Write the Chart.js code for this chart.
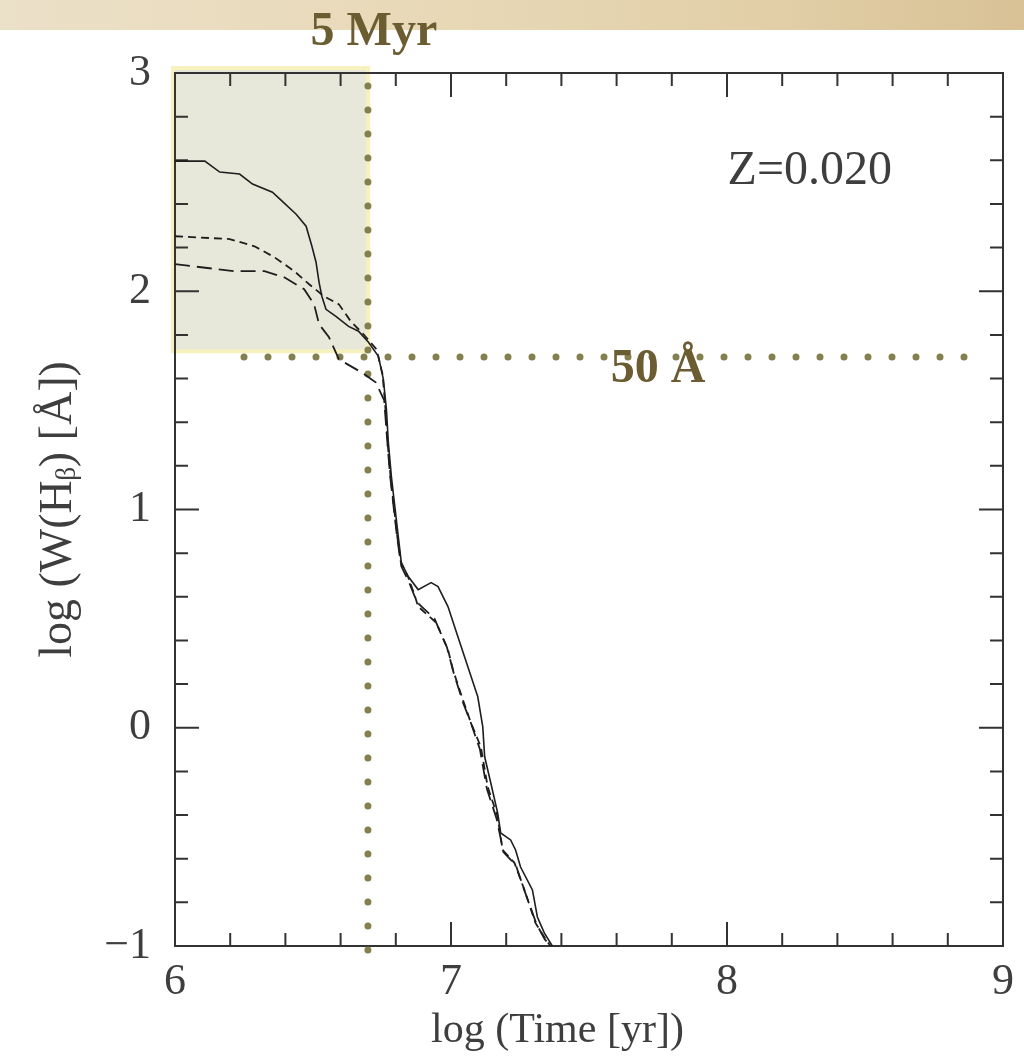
<!DOCTYPE html>
<html>
<head>
<meta charset="utf-8">
<script src="https://cdn.jsdelivr.net/npm/chart.js@4.4.0/dist/chart.umd.min.js"></script>
<style>
  body { margin: 0; background: #fff; }
  #band { position: absolute; left: 0; top: 0; width: 1024px; height: 30px;
    background: linear-gradient(90deg, #ebe0c8 0%, #e8d9b8 40%, #e2cfa8 75%, #d8c195 100%); }
  #wrap { position: absolute; left: 0; top: 0; width: 1024px; height: 1056px; }
</style>
</head>
<body>
<div id="band"></div>
<div id="wrap"><canvas id="chart" width="1024" height="1056"></canvas></div>
<script>
// log time [yr] vs log W(Hbeta) [A], three tracks
var solidX = [6.0, 6.108, 6.162, 6.234, 6.281, 6.353, 6.388, 6.439, 6.475, 6.496, 6.511, 6.522, 6.532, 6.547, 6.583, 6.629, 6.665, 6.701, 6.737,
  6.755, 6.766, 6.773, 6.784, 6.799, 6.809, 6.820, 6.845, 6.881, 6.928, 6.953, 6.989, 7.025, 7.061, 7.097, 7.115, 7.122, 7.144, 7.169, 7.180,
  7.216, 7.234, 7.252, 7.295, 7.313, 7.338, 7.367]
var solidY = [2.596, 2.596, 2.546, 2.537, 2.491, 2.454, 2.413, 2.353, 2.298, 2.206, 2.133, 2.041, 1.977, 1.917, 1.885, 1.839, 1.817, 1.766, 1.702,
  1.596, 1.459, 1.307, 1.151, 0.986, 0.876, 0.757, 0.693, 0.633, 0.665, 0.647, 0.555, 0.417, 0.280, 0.142, 0.005, -0.133, -0.252, -0.390, -0.482,
  -0.514, -0.560, -0.638, -0.743, -0.867, -0.940, -1.0]

var dashX = [6.0, 6.198, 6.288, 6.360, 6.432, 6.486, 6.540, 6.594, 6.637, 6.683, 6.730, 6.752, 6.762, 6.770, 6.781, 6.796, 6.806, 6.818, 6.845,
  6.870, 6.881, 6.946, 6.989, 7.007, 7.043, 7.072, 7.108, 7.133, 7.169, 7.187, 7.230, 7.266, 7.306, 7.338, 7.360]
var dashY = [2.252, 2.239, 2.206, 2.156, 2.092, 2.032, 1.977, 1.940, 1.862, 1.803, 1.734, 1.62, 1.47, 1.31, 1.15, 0.98, 0.87, 0.76, 0.69,
  0.60, 0.555, 0.482, 0.358, 0.266, 0.128, 0.023, -0.087, -0.271, -0.408, -0.560, -0.619, -0.743, -0.894, -0.959, -1.0]

var longX = [6.0, 6.216, 6.324, 6.396, 6.468, 6.504, 6.522, 6.558, 6.594, 6.676, 6.727, 6.758, 6.768, 6.779, 6.794, 6.806, 6.82, 6.85, 6.877,
  6.94, 6.985, 7.01, 7.045, 7.07, 7.105, 7.13, 7.166, 7.19, 7.235, 7.27, 7.31, 7.34, 7.362]
var longY = [2.124, 2.092, 2.092, 2.064, 2.009, 1.940, 1.849, 1.789, 1.688, 1.628, 1.583, 1.50, 1.33, 1.16, 0.99, 0.86, 0.74, 0.66, 0.575,
  0.50, 0.37, 0.25, 0.11, 0.03, -0.10, -0.28, -0.42, -0.57, -0.63, -0.76, -0.90, -0.97, -1.0]

// 5 Myr and 50 A guide lines, and the highlighted box
var myrX = [6.699, 6.699]
var myrY = [2.94, -1.07]
var ewX = [6.25, 8.93]
var ewY = [1.699, 1.699]
var boxX = [6.0, 6.7]
var boxY = [1.725, 3.0]

var xTicks = [6, 7, 8, 9]
var yTicks = [-1, 0, 1, 2, 3]

function pts(xs, ys) {
  return xs.map(function (v, i) { return { x: v, y: ys[i] } })
}

var serif = '"Liberation Serif", "DejaVu Serif", serif'
var textCol = '#3e3e3e'
var olive = '#837f4f'
var labelCol = '#6b5c31'
var nb = '\u00a0'

var framePlugin = {
  id: 'frame',
  beforeDatasetsDraw: function (chart) {
    var ctx = chart.ctx, a = chart.chartArea
    var x = chart.scales.x, y = chart.scales.y
    ctx.save()
    // shaded box
    var l = x.getPixelForValue(boxX[0]), r = x.getPixelForValue(boxX[1])
    var t = y.getPixelForValue(boxY[1]) - 5, b = y.getPixelForValue(boxY[0])
    ctx.fillStyle = '#e8e8da'
    ctx.fillRect(l - 2, t, r - l + 2, b - t)
    ctx.strokeStyle = '#f7f2bd'
    ctx.lineWidth = 4
    ctx.strokeRect(l - 2, t, r - l + 2, b - t)
    // frame
    ctx.strokeStyle = '#333'
    ctx.lineWidth = 2
    ctx.strokeRect(a.left, a.top, a.right - a.left, a.bottom - a.top)
    // inward ticks on all four sides
    ctx.beginPath()
    for (var i = 0; i <= 15; i++) {
      var px = x.getPixelForValue(6 + i * 0.2)
      var len = i % 5 === 0 ? 24 : 13
      ctx.moveTo(px, a.bottom); ctx.lineTo(px, a.bottom - len)
      ctx.moveTo(px, a.top); ctx.lineTo(px, a.top + len)
    }
    for (var j = 0; j <= 20; j++) {
      var py = y.getPixelForValue(-1 + j * 0.2)
      var len2 = j % 5 === 0 ? 24 : 13
      ctx.moveTo(a.left, py); ctx.lineTo(a.left + len2, py)
      ctx.moveTo(a.right, py); ctx.lineTo(a.right - len2, py)
    }
    ctx.stroke()
    ctx.restore()
  },
  afterDraw: function (chart) {
    var ctx = chart.ctx
    var x = chart.scales.x, y = chart.scales.y
    ctx.save()
    ctx.fillStyle = textCol
    ctx.font = '48px ' + serif
    ctx.textAlign = 'center'
    ctx.textBaseline = 'middle'
    ctx.fillText('Z=0.020', x.getPixelForValue(8.30), y.getPixelForValue(2.55))
    ctx.fillStyle = labelCol
    ctx.font = 'bold 48px ' + serif
    ctx.textBaseline = 'alphabetic'
    ctx.fillText('5 Myr', x.getPixelForValue(6.699) + 6, 45)
    ctx.fillText('50 \u00c5', x.getPixelForValue(7.75), y.getPixelForValue(1.699) + 25)
    ctx.restore()
  }
}

var ctx = document.getElementById('chart').getContext('2d')
var myChart = new Chart(ctx, {
  type: 'scatter',
  data: {
    datasets: [
      { data: pts(solidX, solidY), showLine: true, borderColor: '#1e1e1e', borderWidth: 1.6, pointRadius: 0 },
      { data: pts(dashX, dashY), showLine: true, borderColor: '#1e1e1e', borderWidth: 1.8, borderDash: [8, 5], pointRadius: 0 },
      { data: pts(longX, longY), showLine: true, borderColor: '#1e1e1e', borderWidth: 1.8, borderDash: [15, 7], pointRadius: 0 },
      { data: pts(myrX, myrY), showLine: true, borderColor: olive, borderWidth: 7, borderDash: [0, 24],
        borderCapStyle: 'round', pointRadius: 0, clip: false },
      { data: pts(ewX, ewY), showLine: true, borderColor: olive, borderWidth: 7, borderDash: [0, 24],
        borderCapStyle: 'round', pointRadius: 0, clip: false }
    ]
  },
  options: {
    responsive: false,
    animation: false,
    layout: { padding: { left: 30, right: 11, top: 73, bottom: 0 } },
    plugins: { legend: { display: false }, tooltip: { enabled: false } },
    scales: {
      x: {
        type: 'linear', min: 6, max: 9,
        afterBuildTicks: function (s) { s.ticks = xTicks.map(function (v) { return { value: v } }) },
        afterFit: function (s) { s.height = 110 },
        grid: { display: false, drawTicks: false },
        border: { display: false },
        ticks: { color: textCol, font: { family: serif, size: 44 }, padding: 10 },
        title: { display: true, text: 'log (Time [yr])' + nb.repeat(6), color: textCol, font: { family: serif, size: 42 }, padding: 0 }
      },
      y: {
        type: 'linear', min: -1, max: 3,
        afterBuildTicks: function (s) { s.ticks = yTicks.map(function (v) { return { value: v } }) },
        afterFit: function (s) { s.width = 145 },
        grid: { display: false, drawTicks: false },
        border: { display: false },
        ticks: {
          color: textCol, font: { family: serif, size: 44 }, padding: 24,
          callback: function (v) { return v < 0 ? '\u2212' + Math.abs(v) : v }
        },
        title: { display: true, text: 'log (W(H\u1d66) [\u00c5])', color: textCol, font: { family: serif, size: 46 }, padding: 1 }
      }
    }
  },
  plugins: [framePlugin]
})
</script>
</body>
</html>
